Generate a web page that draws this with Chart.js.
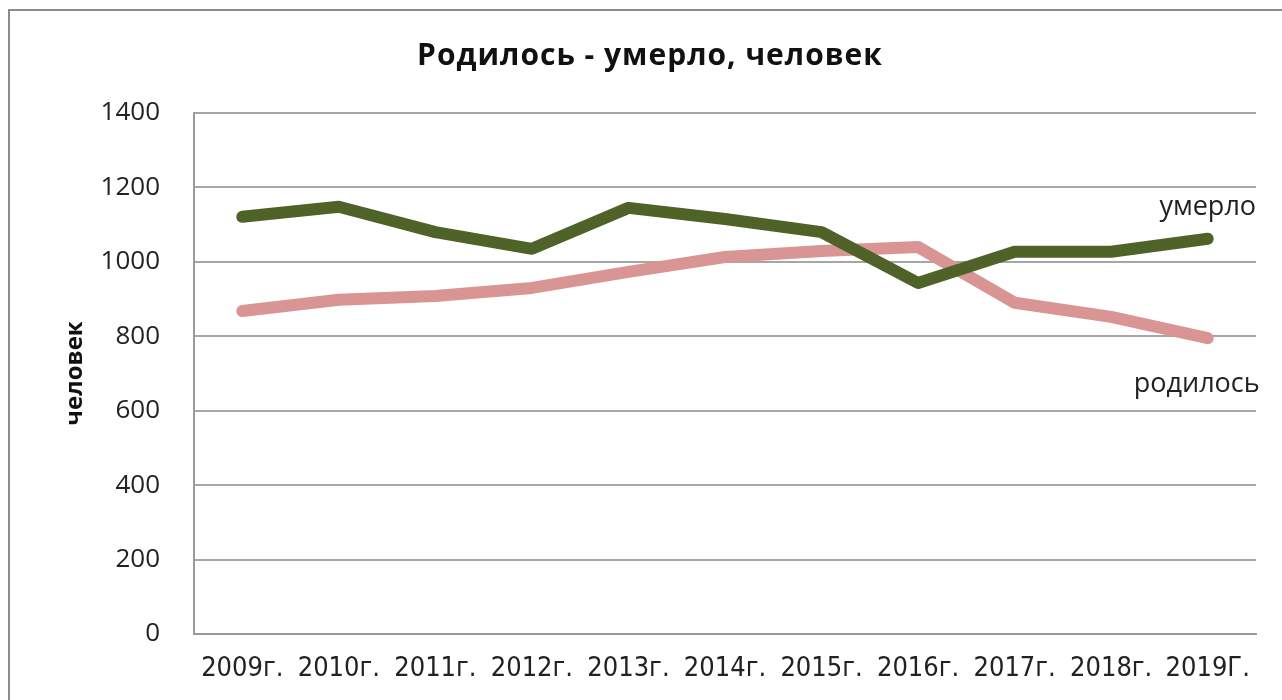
<!DOCTYPE html>
<html>
<head>
<meta charset="utf-8">
<script src="https://cdn.jsdelivr.net/npm/chart.js@4/dist/chart.umd.min.js"></script>
<style>
  html, body { margin: 0; padding: 0; background: #fff; overflow: hidden; }
  #frame { position: absolute; left: 8px; top: 9px; width: 1320px; height: 740px; border: 2px solid #8c8c8c; }
  #wrap { position: absolute; left: 0; top: 0; width: 1282px; height: 700px; }
</style>
</head>
<body>
<div id="frame"></div>
<div id="wrap"><canvas id="people-chart"></canvas></div>
<script>
let years = ['2009г.', '2010г.', '2011г.', '2012г.', '2013г.', '2014г.', '2015г.', '2016г.', '2017г.', '2018г.', '2019Г.'];
let died = [1121, 1148, 1080, 1035, 1145, 1115, 1080, 943, 1027, 1027, 1062];
let born = [868, 898, 908, 930, 973, 1013, 1029, 1040, 890, 852, 795];
let yMin = 0, yMax = 1400, yStep = 200;
let chartTitle = 'Родилось - умерло, человек';
let yTitle = 'человек';

// title + end-of-line labels, drawn on the canvas
const textPlugin = {
    id: 'texts',
    afterDraw(chart) {
        const ctx = chart.ctx;
        ctx.save();
        ctx.fillStyle = '#111';
        ctx.textAlign = 'center';
        ctx.textBaseline = 'middle';
        ctx.font = 'bold 30px "Open Sans"';
        ctx.letterSpacing = '1px';
        ctx.fillText(chartTitle, 650, 56);
        ctx.letterSpacing = '0px';

        ctx.font = '27px "Open Sans"';
        ctx.fillStyle = '#222';
        chart.data.datasets.forEach((ds, i) => {
            const pts = chart.getDatasetMeta(i).data;
            const p = pts[pts.length - 1];
            ctx.fillText(ds.label, p.x + ds.labelDx, p.y + ds.labelDy);
        });
        ctx.restore();
    }
};

const peopleData = {
    labels: years,
    datasets: [
        {
            label: 'умерло',
            data: died,
            borderColor: '#4f6228',
            backgroundColor: '#4f6228',
            borderWidth: 12,
            labelDx: 0,
            labelDy: -31,
        },
        {
            label: 'родилось',
            data: born,
            borderColor: '#d99594',
            backgroundColor: '#d99594',
            borderWidth: 12,
            labelDx: -11,
            labelDy: 46,
        },
    ]
};

const peopleConfig = {
    type: 'line',
    data: peopleData,
    options: {
        responsive: true,
        maintainAspectRatio: false,
        animation: false,
        layout: { padding: { top: 113, right: 26, left: 0, bottom: 0 } },
        elements: {
            point: { radius: 0, hoverRadius: 0 },
            line: { tension: 0, borderCapStyle: 'round', borderJoinStyle: 'round' }
        },
        plugins: {
            legend: { display: false },
            title: { display: false },
            tooltip: { enabled: false }
        },
        scales: {
            x: {
                offset: true,
                grid: { display: false, drawTicks: false },
                border: { display: true, color: '#9a9a9a', width: 2 },
                ticks: {
                    color: '#222',
                    padding: 19,
                    maxRotation: 0,
                    autoSkip: false,
                    font: { family: "'DejaVu Sans Condensed', 'Liberation Sans Narrow', sans-serif", size: 27 }
                },
                afterFit(scale) { scale.height = 66; }
            },
            y: {
                min: yMin,
                max: yMax,
                grid: { color: '#a6a6a6', lineWidth: 2, drawTicks: false },
                border: { display: true, color: '#9a9a9a', width: 2 },
                ticks: {
                    stepSize: yStep,
                    color: '#222',
                    padding: 34,
                    font: { family: "'Open Sans'", size: 26 },
                    callback: (v) => String(v)
                },
                title: {
                    display: true,
                    text: yTitle,
                    color: '#111',
                    padding: { top: 61, bottom: 0 },
                    font: { family: "'Open Sans'", size: 24, weight: 'bold' }
                },
                afterFit(scale) { scale.width = 194; }
            }
        }
    },
    plugins: [textPlugin]
};

const peopleChart = new Chart(
    document.getElementById('people-chart'),
    peopleConfig
);
</script>
</body>
</html>
